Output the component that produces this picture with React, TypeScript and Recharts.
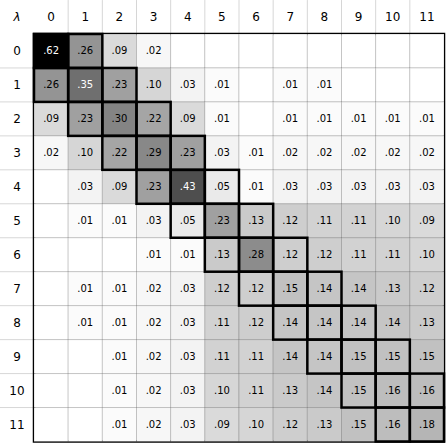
import React from 'react';
import { ScatterChart, Scatter, XAxis, YAxis, ReferenceLine, ReferenceArea } from 'recharts';

const lambdas = [0, 1, 2, 3, 4, 5, 6, 7, 8, 9, 10, 11];
const row0 = [0.62, 0.26, 0.09, 0.02, 0, 0, 0, 0, 0, 0, 0, 0];
const row1 = [0.26, 0.35, 0.23, 0.10, 0.03, 0.01, 0, 0.01, 0.01, 0, 0, 0];
const row2 = [0.09, 0.23, 0.30, 0.22, 0.09, 0.01, 0, 0.01, 0.01, 0.01, 0.01, 0.01];
const row3 = [0.02, 0.10, 0.22, 0.29, 0.23, 0.03, 0.01, 0.02, 0.02, 0.02, 0.02, 0.02];
const row4 = [0, 0.03, 0.09, 0.23, 0.43, 0.05, 0.01, 0.03, 0.03, 0.03, 0.03, 0.03];
const row5 = [0, 0.01, 0.01, 0.03, 0.05, 0.23, 0.13, 0.12, 0.11, 0.11, 0.10, 0.09];
const row6 = [0, 0, 0, 0.01, 0.01, 0.13, 0.28, 0.12, 0.12, 0.11, 0.11, 0.10];
const row7 = [0, 0.01, 0.01, 0.02, 0.03, 0.12, 0.12, 0.15, 0.14, 0.14, 0.13, 0.12];
const row8 = [0, 0.01, 0.01, 0.02, 0.03, 0.11, 0.12, 0.14, 0.14, 0.14, 0.14, 0.13];
const row9 = [0, 0, 0.01, 0.02, 0.03, 0.11, 0.11, 0.14, 0.14, 0.15, 0.15, 0.15];
const row10 = [0, 0, 0.01, 0.02, 0.03, 0.10, 0.11, 0.13, 0.14, 0.15, 0.16, 0.16];
const row11 = [0, 0, 0.01, 0.02, 0.03, 0.09, 0.10, 0.12, 0.13, 0.15, 0.16, 0.18];
const matrix = [row0, row1, row2, row3, row4, row5, row6, row7, row8, row9, row10, row11];
const VMAX = 0.62;

const W = 446;
const H = 444;
const AX = 34;
const RIGHT = 2;
const BOTTOM = 2.5;
const N = lambdas.length;
const CW = (W - AX - RIGHT) / N;
const CH = (H - AX - BOTTOM) / N;
const FONT = 'DejaVu Sans, sans-serif';

const cells = matrix.flatMap((row, i) => row.map((v, j) => ({ col: lambdas[j], row: lambdas[i], v })));
const band = cells.filter((c) => Math.abs(c.row - c.col) <= 1);

function grey(v: number) {
  const g = Math.round(255 * (1 - Math.min(v / VMAX, 1)));
  return `rgb(${g},${g},${g})`;
}
function fmt(v: number) {
  return v.toFixed(2).replace(/^0/, '');
}

const CellShape = (props: any) => {
  const { cx, cy, payload } = props;
  const v = payload.v;
  return (
    <g>
      <rect x={cx - CW / 2} y={cy - CH / 2} width={CW} height={CH} fill={grey(v)} stroke="rgba(0,0,0,0.16)" strokeWidth={1} />
      {v >= 0.005 && (
        <text x={cx} y={cy} textAnchor="middle" dominantBaseline="central" fontSize={10} fontFamily={FONT} fill={v > 0.32 ? '#fff' : '#000'}>
          {fmt(v)}
        </text>
      )}
    </g>
  );
};

const BandShape = (props: any) => {
  const { cx, cy } = props;
  return <rect x={cx - CW / 2} y={cy - CH / 2} width={CW} height={CH} fill="none" stroke="#000" strokeWidth={2.5} />;
};

const HeaderTick = (props: any) => {
  const { x, payload } = props;
  return (
    <text x={x} y={AX / 2} textAnchor="middle" dominantBaseline="central" fontSize={12} fontFamily={FONT} fill="#000">
      {payload.value}
    </text>
  );
};

const RowTick = (props: any) => {
  const { y, payload } = props;
  return (
    <text x={AX / 2} y={y} textAnchor="middle" dominantBaseline="central" fontSize={12} fontFamily={FONT} fill="#000">
      {payload.value}
    </text>
  );
};

export default function App() {
  return (
    <div style={{ position: 'absolute', left: 0, top: 0, width: W, height: H, background: '#fff' }}>
      <ScatterChart width={W} height={H} margin={{ top: 0, right: RIGHT, bottom: BOTTOM, left: 0 }}>
        <XAxis
          type="number"
          dataKey="col"
          orientation="top"
          domain={[-0.5, N - 0.5]}
          ticks={lambdas}
          interval={0}
          height={AX}
          axisLine={false}
          tickLine={false}
          tick={<HeaderTick />}
        />
        <YAxis
          type="number"
          dataKey="row"
          domain={[-0.5, N - 0.5]}
          reversed
          ticks={lambdas}
          interval={0}
          width={AX}
          axisLine={false}
          tickLine={false}
          tick={<RowTick />}
        />
        {lambdas.slice(0, -1).map((k) => (
          <ReferenceLine
            key={'v' + k}
            segment={[{ x: k + 0.5, y: -1.5 }, { x: k + 0.5, y: -0.5 }]}
            stroke="rgba(0,0,0,0.16)"
            strokeWidth={1}
            ifOverflow="visible"
          />
        ))}
        {lambdas.slice(0, -1).map((k) => (
          <ReferenceLine
            key={'h' + k}
            segment={[{ x: -1.5, y: k + 0.5 }, { x: -0.5, y: k + 0.5 }]}
            stroke="rgba(0,0,0,0.16)"
            strokeWidth={1}
            ifOverflow="visible"
          />
        ))}
        <Scatter data={cells} isAnimationActive={false} shape={<CellShape />} />
        <Scatter data={band} isAnimationActive={false} shape={<BandShape />} />
        <ReferenceArea
          x1={-0.5}
          x2={N - 0.5}
          y1={-0.5}
          y2={N - 0.5}
          fill="none"
          fillOpacity={0}
          stroke="#000"
          strokeWidth={2.5}
          ifOverflow="visible"
        />
      </ScatterChart>
      <div
        style={{
          position: 'absolute',
          left: 0,
          top: 0,
          width: AX,
          height: AX,
          display: 'flex',
          alignItems: 'center',
          justifyContent: 'center',
          fontFamily: FONT,
          fontStyle: 'italic',
          fontSize: 12,
        }}
      >
        λ
      </div>
    </div>
  );
}
